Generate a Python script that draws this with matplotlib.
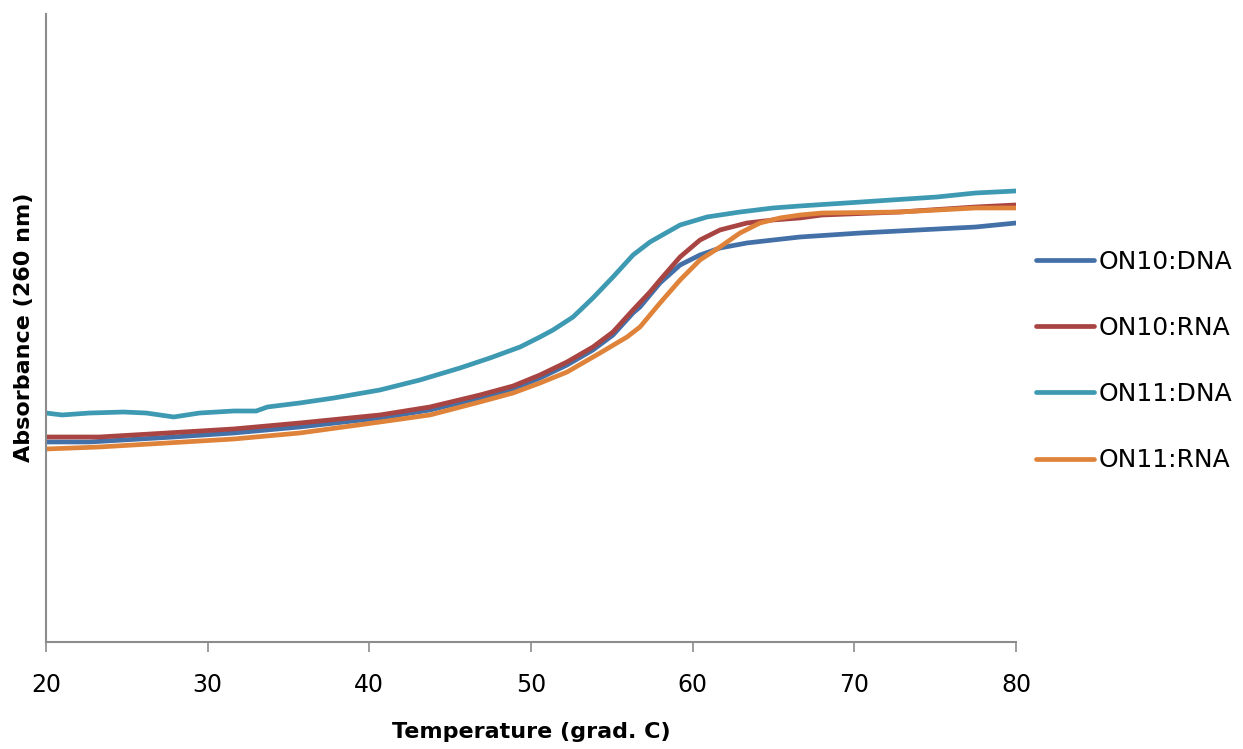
import numpy as np
import matplotlib
matplotlib.use("Agg")
import matplotlib.pyplot as plt

# Melting curves (absorbance in arbitrary units)
on10_dna_temp = [20, 22.7, 27.9, 31.6, 35.7, 40.66, 43.75, 46.84, 48.89, 50.56, 52.23,
                 53.83, 55.07, 56.31, 56.74, 57.98, 59.22, 60.45, 61.69, 63.36, 64.97,
                 66.64, 70.4, 75.1, 77.5, 80]
on10_dna_abs = [0.3185, 0.3185, 0.3264, 0.3328, 0.3424, 0.3567, 0.3694, 0.3885, 0.4029,
                0.4204, 0.4411, 0.4650, 0.4888, 0.5240, 0.5334, 0.5717, 0.6003, 0.6162,
                0.6274, 0.6354, 0.6401, 0.6449, 0.6513, 0.6576, 0.6608, 0.6672]

on10_rna_temp = [20, 23.3, 27.5, 31.6, 35.7, 40.66, 43.75, 46.84, 48.89, 50.56, 52.23,
                 53.83, 55.07, 56.31, 57.36, 57.98, 59.22, 60.45, 61.69, 63.36, 64.97,
                 66.64, 68.0, 72.8, 77.5, 80]
on10_rna_abs = [0.3264, 0.3264, 0.3328, 0.3392, 0.3487, 0.3615, 0.3742, 0.3933, 0.4076,
                0.4252, 0.4459, 0.4697, 0.4936, 0.5287, 0.5573, 0.5764, 0.6131, 0.6401,
                0.6561, 0.6672, 0.6720, 0.6752, 0.6799, 0.6847, 0.6927, 0.6959]

on11_dna_temp = [20, 21, 22.7, 24.8, 26.2, 27.9, 29.5, 31.6, 33.0, 33.7, 35.7, 37.8,
                 40.66, 43.13, 45.61, 47.46, 49.32, 50.56, 51.36, 52.60, 53.83, 55.07,
                 56.31, 57.36, 57.98, 59.22, 60.89, 62.93, 64.97, 66.64, 70.4, 75.1,
                 77.5, 80]
on11_dna_abs = [0.3646, 0.3615, 0.3646, 0.3662, 0.3646, 0.3583, 0.3646, 0.3678, 0.3678,
                0.3742, 0.3806, 0.3885, 0.4013, 0.4172, 0.4363, 0.4522, 0.4697, 0.4857,
                0.4968, 0.5175, 0.5478, 0.5812, 0.6162, 0.6369, 0.6460, 0.6640, 0.6768,
                0.6847, 0.6911, 0.6943, 0.7006, 0.7086, 0.7150, 0.7182]

on11_rna_temp = [20, 23.3, 27.5, 31.6, 35.7, 40.66, 43.75, 46.84, 48.89, 50.56, 52.23,
                 54.27, 55.94, 56.74, 57.98, 59.22, 60.45, 61.69, 62.93, 64.16, 65.40,
                 66.64, 68.0, 72.8, 77.5, 80]
on11_rna_abs = [0.3073, 0.3105, 0.3169, 0.3232, 0.3328, 0.3503, 0.3615, 0.3822, 0.3965,
                0.4124, 0.4299, 0.4602, 0.4857, 0.5016, 0.5398, 0.5764, 0.6083, 0.6290,
                0.6513, 0.6672, 0.6752, 0.6799, 0.6831, 0.6847, 0.6911, 0.6911]

series_labels = ["ON10:DNA", "ON10:RNA", "ON11:DNA", "ON11:RNA"]
series_colors = ["#4470A8", "#A84442", "#3E9AB2", "#E0833A"]

fig = plt.figure(figsize=(12.43, 7.49), dpi=100)
ax = fig.add_axes([0.0370, 0.1429, 0.7804, 0.8384])

series = [
    (on10_dna_temp, on10_dna_abs),
    (on10_rna_temp, on10_rna_abs),
    (on11_dna_temp, on11_dna_abs),
    (on11_rna_temp, on11_rna_abs),
]
for (temp, absorb), label, color in zip(series, series_labels, series_colors):
    ax.plot(temp, absorb, color=color, lw=3.4, label=label,
            solid_capstyle="round", solid_joinstyle="round")

ax.set_xlim(20, 80)
ax.set_ylim(0, 1)
ax.set_xticks(np.arange(20, 81, 10))
ax.set_yticks([])

# Excel-like axes: grey left/bottom spines only
for side in ["top", "right"]:
    ax.spines[side].set_visible(False)
for side in ["left", "bottom"]:
    ax.spines[side].set_color("#8C8C8C")
    ax.spines[side].set_linewidth(1.5)
ax.tick_params(axis="x", direction="out", length=7, width=1.2, color="#8C8C8C",
               labelsize=17, pad=15)

fig.text(531 / 1243, 1 - 732 / 749, "Temperature (grad. C)", ha="center", va="center",
         fontsize=16, fontweight="bold")
fig.text(24 / 1243, 1 - 327 / 749, "Absorbance (260 nm)", ha="center", va="center",
         rotation=90, fontsize=16, fontweight="bold")

fig.legend(loc="center left", bbox_to_anchor=(1036 / 1243, 1 - 361 / 749),
           frameon=False, fontsize=18, handlelength=2.3, handletextpad=0.2,
           labelspacing=1.69, borderpad=0, borderaxespad=0)

fig.savefig("out.png", dpi=100)
plt.close(fig)
